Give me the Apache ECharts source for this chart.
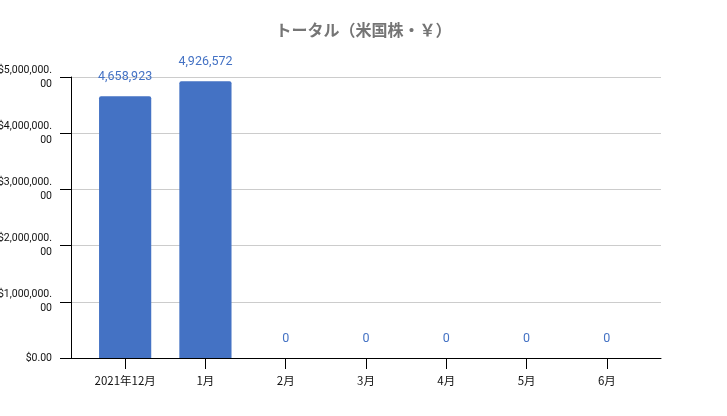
<!DOCTYPE html>
<html>
<head>
<meta charset="utf-8">
<title>トータル</title>
<script src="https://cdn.jsdelivr.net/npm/echarts@6/dist/echarts.min.js"></script>
<style>
  html, body { margin: 0; padding: 0; background: #fff; }
  #chart { width: 727px; height: 416px; }
</style>
</head>
<body>
<div id="chart"></div>
<script>
var months = ['2021年12月', '1月', '2月', '3月', '4月', '5月', '6月'];
var totals = [4658923, 4926572, 0, 0, 0, 0, 0];
var yMax = 5000000;
var yStep = 1000000;

var chart = echarts.init(document.getElementById('chart'));
var font = 'Roboto, "Noto Sans CJK JP", sans-serif';
var cjk = '"Noto Sans CJK JP", sans-serif';

function yen(v) {
  if (v === 0) return '$0.00';
  return '$' + v.toLocaleString('en-US') + '.\n00';
}

var option = {
  animation: false,
  title: {
    text: 'トータル（米国株・￥）',
    left: 'center',
    top: 17,
    textStyle: { color: '#757575', fontSize: 16, fontWeight: 'bold', fontFamily: cjk }
  },
  grid: [
    // bars sit in a narrower band than the axis frame
    { left: 85, right: 80, top: 77, bottom: 58, containLabel: false, outerBoundsMode: 'none' },
    { left: 71, right: 66, top: 77, bottom: 58, containLabel: false, outerBoundsMode: 'none' }
  ],
  xAxis: [
    {
      type: 'category', gridIndex: 0, data: months,
      axisLine: { show: false },
      axisTick: { show: true, alignWithLabel: true, length: 11, lineStyle: { color: '#000' } },
      axisLabel: { color: '#111', fontSize: 11.5, margin: 17, fontFamily: cjk }
    },
    {
      type: 'value', gridIndex: 1, min: 0, max: 1,
      axisLine: { show: true, lineStyle: { color: '#000' } },
      axisTick: { show: false }, axisLabel: { show: false }, splitLine: { show: false }
    }
  ],
  yAxis: [
    {
      type: 'value', gridIndex: 0, min: 0, max: yMax, interval: yStep,
      show: false
    },
    {
      type: 'value', gridIndex: 1, min: 0, max: yMax, interval: yStep,
      axisLine: { show: true, lineStyle: { color: '#000' } },
      axisTick: { show: true, length: 11, lineStyle: { color: '#000' } },
      axisLabel: { color: '#111', fontSize: 10.5, margin: 19, lineHeight: 14, fontFamily: 'Roboto, sans-serif', formatter: yen },
      splitLine: { show: true, lineStyle: { color: '#cccccc' } }
    }
  ],
  series: [
    {
      type: 'bar',
      xAxisIndex: 0, yAxisIndex: 0,
      data: totals,
      barWidth: '65%',
      itemStyle: { color: '#4472C4', borderRadius: [2, 2, 0, 0] },
      label: {
        show: true, position: 'top', distance: 13,
        color: '#4472C4', fontSize: 12.5, fontFamily: font,
        formatter: function (p) { return p.value.toLocaleString('en-US'); }
      }
    }
  ]
};
chart.setOption(option);
</script>
</body>
</html>
